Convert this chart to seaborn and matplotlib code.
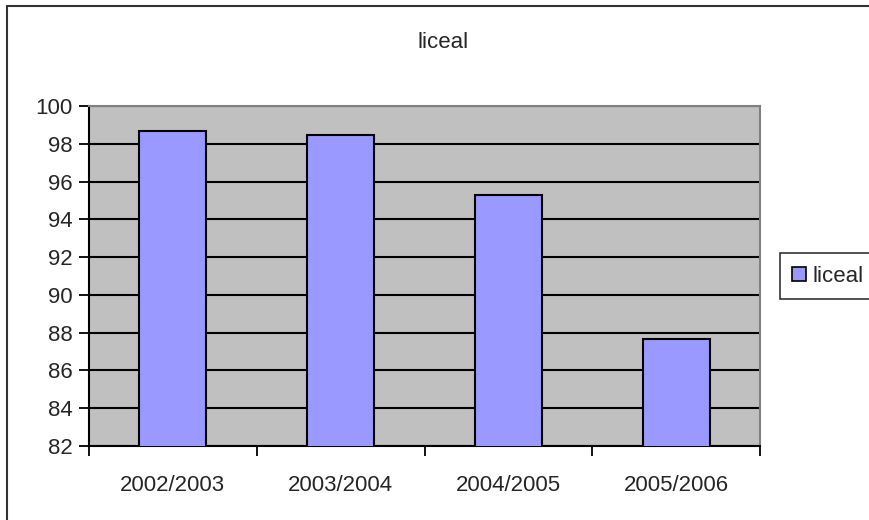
import pandas as pd
import seaborn as sns
import matplotlib.pyplot as plt
from matplotlib.patches import Patch
from matplotlib.lines import Line2D

#data
years = ['2002/2003', '2003/2004', '2004/2005', '2005/2006']
liceal = [98.66, 98.45, 95.27, 87.65]
yticks = [82, 84, 86, 88, 90, 92, 94, 96, 98, 100]

df = pd.DataFrame({'an': years, 'liceal': liceal})

sns.set_style('white')
plt.rcParams['font.family'] = ['Liberation Sans', 'DejaVu Sans']
plt.rcParams['font.size'] = 16

fig = plt.figure(figsize=(8.69, 5.20), dpi=100)
ax = fig.add_axes([89/869, 74/520, 671/869, 340/520])
ax.set_facecolor('#C0C0C0')

sns.barplot(data=df, x='an', y='liceal', color='#9999FF', saturation=1,
            edgecolor='black', linewidth=1.5, width=0.4, ax=ax, zorder=3)

ax.set_ylim(82, 100)
ax.set_xlim(-0.5, 3.5)
ax.set_yticks(yticks)
ax.set_yticklabels([str(t) for t in yticks])
ax.yaxis.grid(True, color='black', linewidth=1.5, zorder=1)
ax.set_axisbelow(True)
ax.set_xlabel('')
ax.set_ylabel('')

#category boundaries carry the tick marks, labels sit in the middle
ax.set_xticks([-0.5, 0.5, 1.5, 2.5, 3.5], minor=True)
ax.tick_params(axis='x', which='minor', direction='out', length=7, width=1.3, color='black', bottom=True)
ax.tick_params(axis='x', which='major', length=0, pad=21, labelsize=16)
ax.tick_params(axis='y', direction='out', length=7, width=1.3, color='black', left=True, pad=5, labelsize=16)

for side in ['left', 'bottom']:
    ax.spines[side].set_color('black')
    ax.spines[side].set_linewidth(1.5)
for side in ['top', 'right']:
    ax.spines[side].set_color('#808080')
    ax.spines[side].set_linewidth(1.5)

fig.text(443/869, 1 - 43/520, 'liceal', ha='center', va='center', fontsize=16)

handle = Patch(facecolor='#9999FF', edgecolor='black', linewidth=1.2)
leg = fig.legend(handles=[handle], labels=['liceal'], loc='center left',
                 bbox_to_anchor=(780/869, 1 - 276/520), borderaxespad=0,
                 frameon=True, fancybox=False,
                 handlelength=0.6, handleheight=0.6, handletextpad=0.3,
                 borderpad=0.55, fontsize=16)
leg.get_frame().set_edgecolor('black')
leg.get_frame().set_linewidth(1.2)

#outer chart border (only left and top are visible in the picture)
fig.add_artist(Line2D([7.5/869, 7.5/869], [0, 1 - 5.5/520], transform=fig.transFigure, color='#333333', linewidth=1.5))
fig.add_artist(Line2D([7.5/869, 1], [1 - 5.5/520, 1 - 5.5/520], transform=fig.transFigure, color='#333333', linewidth=1.5))

fig.savefig('out.png', dpi=100)
